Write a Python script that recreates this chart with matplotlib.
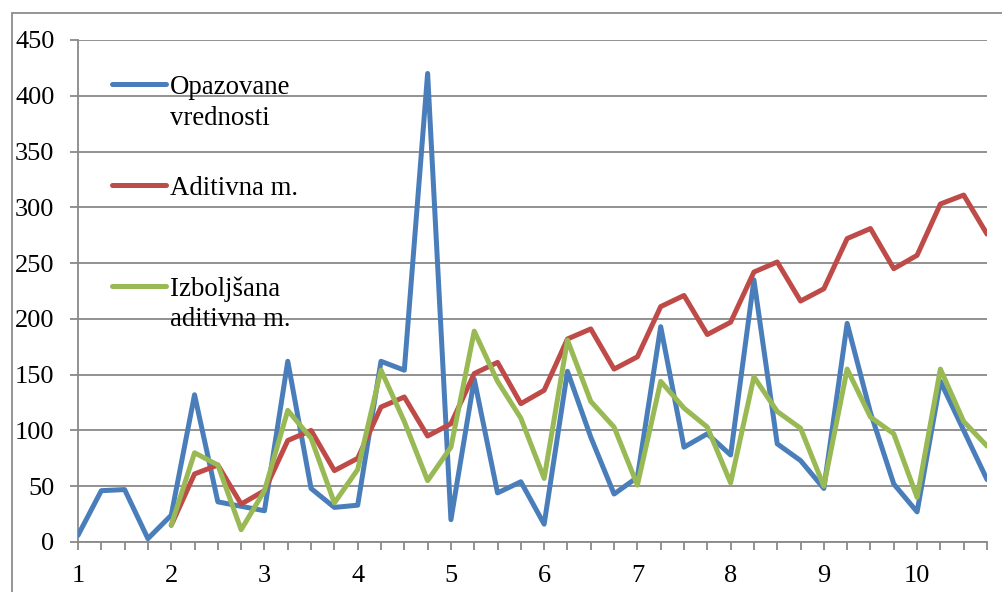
import numpy as np
import matplotlib
matplotlib.use("Agg")
import matplotlib.pyplot as plt
from matplotlib.patches import Rectangle

# Quarterly observations, years 1..10 (4 quarters per year)
observed = [6, 46, 47, 3, 24, 132, 36, 32, 28, 162, 48, 31, 33, 162, 154, 420,
            20, 146, 44, 54, 16, 153, 94, 43, 58, 193, 85, 97, 78, 235, 88, 73,
            48, 196, 116, 52, 27, 144, 100, 56]
# Model fits start with the first quarter of year 2
additive = [15, 61, 69, 34, 46, 91, 100, 64, 75, 121, 130, 95, 106, 151, 161, 124,
            136, 182, 191, 155, 166, 211, 221, 186, 197, 242, 251, 216, 227, 272,
            281, 245, 257, 303, 311, 276]
improved = [15, 80, 69, 11, 46, 118, 93, 35, 65, 154, 108, 55, 85, 189, 144, 111,
            57, 181, 126, 103, 51, 144, 120, 103, 53, 148, 117, 102, 50, 155, 112,
            97, 40, 155, 108, 86]
year_labels = ["1", "2", "3", "4", "5", "6", "7", "8", "9", "10"]
y_ticks = [0, 50, 100, 150, 200, 250, 300, 350, 400, 450]

series_names = ["Opazovane\nvrednosti", "Aditivna m.", "Izboljšana\naditivna m."]
colors = ["#4A7EBB", "#BE4B48", "#98B954"]

plt.rcParams["font.family"] = ["Liberation Serif", "DejaVu Serif"]

quarters_per_year = 4
n = len(observed)
x_obs = 1 + np.arange(n) / quarters_per_year
start = n - len(additive)
x_fit = x_obs[start:]

fig = plt.figure(figsize=(10.03, 5.92), dpi=100)
ax = fig.add_axes([78 / 1003, 1 - 542 / 592, 909 / 1003, 502 / 592])

grid_c = "#898989"
lw = 3.6
style = dict(lw=lw, solid_joinstyle="round", solid_capstyle="round")
ax.plot(x_obs, observed, color=colors[0], zorder=3, **style)
ax.plot(x_fit, additive, color=colors[1], zorder=4, **style)
ax.plot(x_fit, improved, color=colors[2], zorder=5, **style)

ax.set_xlim(x_obs[0], x_obs[-1])
ax.set_ylim(y_ticks[0], y_ticks[-1])

ax.set_yticks(y_ticks)
ax.set_yticklabels([str(v) for v in y_ticks])
ax.set_xticks(np.arange(1, len(year_labels) + 1))
ax.set_xticklabels(year_labels)
ax.set_xticks(x_obs, minor=True)

ax.grid(axis="y", color=grid_c, lw=1.3, zorder=1)
for s in ["top", "right"]:
    ax.spines[s].set_visible(False)
for s in ["left", "bottom"]:
    ax.spines[s].set_color(grid_c)
    ax.spines[s].set_linewidth(1.3)
    ax.spines[s].set_zorder(2)

ax.tick_params(axis="y", direction="out", length=6, width=1.3, color=grid_c,
               labelsize=19, pad=11)
ax.tick_params(axis="x", which="both", direction="out", length=5.5, width=1.3,
               color=grid_c, labelsize=19, pad=11)

# Legend entries drawn inside the plot area
leg_rows = [0.912, 0.711, 0.510]
line_gap = 31 / 502
for name, c, yy in zip(series_names, colors, leg_rows):
    ax.plot([0.0374, 0.0968], [yy, yy], transform=ax.transAxes, color=c,
            lw=lw, solid_capstyle="round", zorder=6, clip_on=False)
    for k, part in enumerate(name.split("\n")):
        ax.text(0.1012, yy - k * line_gap, part, transform=ax.transAxes,
                fontsize=19.3, va="center_baseline", ha="left", zorder=7)

# Chart frame
top = 1 - 13 / 592
fig.patches.append(Rectangle((12 / 1003, -0.2), 1.2, top + 0.2,
                             transform=fig.transFigure, fill=False,
                             edgecolor="#8C8C8C", lw=1.3))

fig.savefig("out.png", dpi=100)
